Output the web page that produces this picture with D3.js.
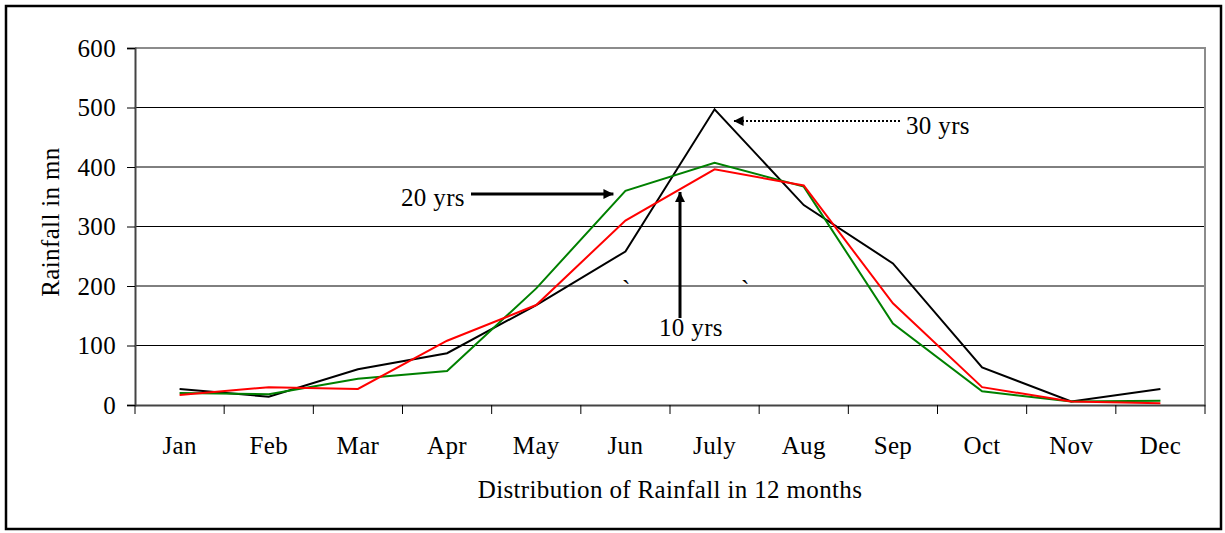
<!DOCTYPE html>
<html>
<head>
<meta charset="utf-8">
<script src="https://d3js.org/d3.v7.min.js"></script>
<style>
  html, body { margin: 0; padding: 0; background: #fff; }
  svg text { font-family: "Liberation Serif", "Times New Roman", serif; fill: #000; letter-spacing: 0.35px; }
</style>
</head>
<body>
<svg id="chart" width="1225" height="533"></svg>
<script>
// Monthly rainfall (mm) averaged over three periods
const months = ["Jan", "Feb", "Mar", "Apr", "May", "Jun", "July", "Aug", "Sep", "Oct", "Nov", "Dec"];
const rain10 = [17, 30, 27, 108, 168, 310, 396, 369, 171, 30, 6, 3];
const rain20 = [20, 18, 44, 57, 196, 360, 407, 367, 137, 23, 6, 7];
const rain30 = [27, 14, 60, 87, 168, 258, 497, 336, 238, 63, 6, 27];
const yTicks = [0, 100, 200, 300, 400, 500, 600];

const FS = 25;
const svg = d3.select("#chart");
const W = 1225, H = 533;
const m = { left: 135, right: 20, top: 48, bottom: 128 };
const pw = W - m.left - m.right, ph = H - m.top - m.bottom;

// outer frame
svg.append("rect")
  .attr("x", 6).attr("y", 6).attr("width", W - 10).attr("height", H - 10)
  .attr("fill", "none").attr("stroke", "#000").attr("stroke-width", 2.5);

const g = svg.append("g").attr("transform", `translate(${m.left},${m.top})`);

const x = d3.scaleBand().domain(months).range([0, pw]);
const y = d3.scaleLinear().domain([0, 600]).range([ph, 0]);
const cx = d => x(d) + x.bandwidth() / 2;

// horizontal gridlines
g.selectAll(".grid").data(yTicks.filter(t => t > 0 && t < 600)).join("line")
  .attr("x1", 0).attr("x2", pw)
  .attr("y1", d => y(d)).attr("y2", d => y(d))
  .attr("stroke", "#000").attr("stroke-width", 1);

// plot area top & right border
g.append("path")
  .attr("d", `M0,${y(600)}H${pw}V${y(0)}`)
  .attr("fill", "none").attr("stroke", "#8c8c8c").attr("stroke-width", 2);

// y axis
const yAxis = g.append("g").call(d3.axisLeft(y).tickValues(yTicks).tickSize(8).tickPadding(11));
yAxis.select(".domain").attr("stroke", "#444").attr("stroke-width", 2);
yAxis.selectAll(".tick line").attr("stroke", "#000");
yAxis.selectAll(".tick text").attr("font-size", FS).attr("font-family", "Liberation Serif");

// x axis with ticks on band boundaries
const xAxis = g.append("g").attr("transform", `translate(0,${ph})`)
  .call(d3.axisBottom(x).tickSize(0).tickPadding(31));
xAxis.select(".domain").attr("stroke", "#444").attr("stroke-width", 2);
xAxis.selectAll(".tick text").attr("font-size", FS).attr("font-family", "Liberation Serif");
const bounds = months.map(d => x(d)).concat([pw]);
xAxis.selectAll(".bound").data(bounds).join("line")
  .attr("x1", d => d).attr("x2", d => d).attr("y1", 0).attr("y2", 9)
  .attr("stroke", "#000").attr("stroke-width", 1);

// series lines
const line = d3.line().x((d, i) => cx(months[i])).y(d => y(d));
[[rain30, "#000000"], [rain20, "#008000"], [rain10, "#ff0000"]].forEach(([vals, col]) => {
  g.append("path").datum(vals).attr("d", line)
    .attr("fill", "none").attr("stroke", col).attr("stroke-width", 2)
    .attr("stroke-linejoin", "miter");
});

// axis titles
svg.append("text")
  .attr("transform", `translate(59,222) rotate(-90)`)
  .attr("text-anchor", "middle").attr("font-size", FS)
  .text("Rainfall in mn");
svg.append("text")
  .attr("x", m.left + pw / 2).attr("y", 498)
  .attr("text-anchor", "middle").attr("font-size", FS)
  .text("Distribution of Rainfall in 12 months");

// annotation arrows
const defs = svg.append("defs");
defs.append("marker").attr("id", "ah").attr("viewBox", "0 0 10 10")
  .attr("refX", 10).attr("refY", 5)
  .attr("markerUnits", "userSpaceOnUse").attr("orient", "auto")
  .attr("markerWidth", 11).attr("markerHeight", 10)
  .append("path").attr("d", "M0,0L10,5L0,10Z").attr("fill", "#000");

const junX = m.left + cx("Jun"), julX = m.left + cx("July");

// 30 yrs
svg.append("line")
  .attr("x1", 900).attr("y1", 121).attr("x2", julX + 19).attr("y2", 121)
  .attr("stroke", "#000").attr("stroke-width", 2).attr("stroke-dasharray", "2,2")
  .attr("marker-end", "url(#ah)");
svg.append("text").attr("x", 906).attr("y", 134).attr("font-size", FS).text("30 yrs");

// 20 yrs
svg.append("line")
  .attr("x1", 471).attr("y1", 194).attr("x2", junX - 12).attr("y2", 194)
  .attr("stroke", "#000").attr("stroke-width", 3).attr("marker-end", "url(#ah)");
svg.append("text").attr("x", 401).attr("y", 206).attr("font-size", FS).text("20 yrs");

// 10 yrs
svg.append("line")
  .attr("x1", 680).attr("y1", 318).attr("x2", 680).attr("y2", 192)
  .attr("stroke", "#000").attr("stroke-width", 3).attr("marker-end", "url(#ah)");
svg.append("text").attr("x", 659).attr("y", 336).attr("font-size", FS).text("10 yrs");

// stray marks
svg.append("text").attr("x", 622).attr("y", 298).attr("font-size", FS).text("`");
svg.append("text").attr("x", 741).attr("y", 298).attr("font-size", FS).text("`");
</script>
</body>
</html>
